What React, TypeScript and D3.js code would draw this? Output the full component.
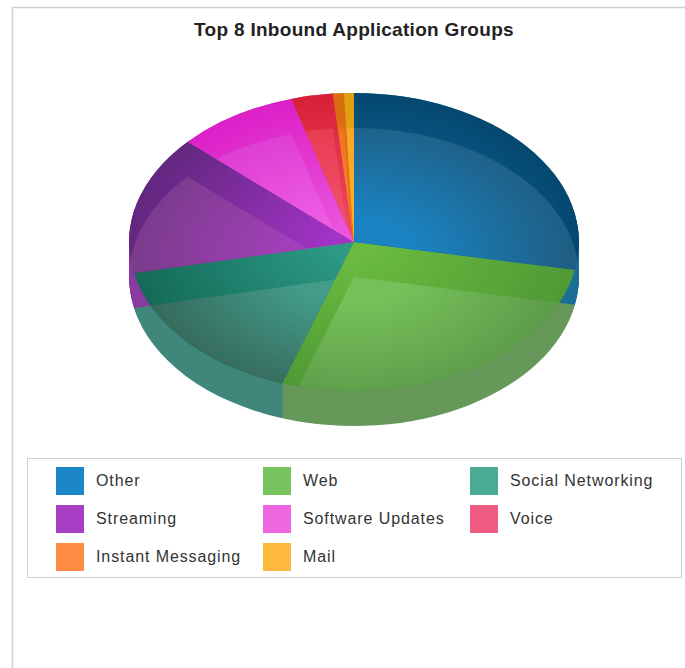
import React from 'react';
import * as d3 from 'd3';

// Traffic share per application group, in percent.
const groupNames = ['Other', 'Web', 'Social Networking', 'Streaming', 'Software Updates', 'Voice', 'Instant Messaging', 'Mail'];
const groupShares = [28, 27.2, 16.5, 15.1, 8.75, 3.0, 0.8, 0.7];

// Legend swatch colour of each group.
const legendColors = ['#1b87c9', '#77c35e', '#4aab95', '#a63fc4', '#ee66e0', '#ee5c82', '#ff8c42', '#fcb93e'];
// Lit face colours, near the centre and towards the outer edge.
const faceNear = ['#1a82c0', '#76c05a', '#439c8a', '#a240ba', '#ee5ce2', '#f0506a', '#ff8230', '#fcb02e'];
const faceFar = ['#1f5f85', '#5d9c4a', '#366a5c', '#7c3c8e', '#dc3cd2', '#e83a50', '#f07020', '#f5a520'];
// Upper rim colours, near the centre and at the outer edge.
const rimNear = ['#0f6ea8', '#6abb3f', '#2c9a85', '#a233c6', '#ea55dc', '#ee4a60', '#f07a10', '#f0a818'];
const rimFar = ['#05486f', '#4f9a35', '#146a58', '#62277f', '#dc20c8', '#d82038', '#d86a10', '#dca010'];
// Lower wall colours.
const wallColors = ['#1a6f97', '#66985a', '#3f877a', '#8a3aa0', '#c050b8', '#c04a68', '#c87038', '#c89a38'];

const titleText = 'Top 8 Inbound Application Groups';

const WIDTH = 685;
const HEIGHT = 668;
const CX = 354;
const CY = 242;
const RX = 225;
const RY = 149;
const DEPTH = 35;

const legendColX = [56, 263, 470];
const legendRowY = [467, 505, 543];

// Wall paint order: front slices first, so the side slivers of the back slices stay visible.
const wallOrder = [2, 1, 3, 4, 5, 6, 7, 0];
const sweepOffsets = d3.range(0, DEPTH + 1);

const slices = d3.pie<number>().sort(null).value((d) => d)(groupShares);
const unitArc = d3.arc<d3.PieArcDatum<number>>().innerRadius(0).outerRadius(1);

const placeAt = (dy: number) => `translate(${CX},${CY + dy}) scale(${RX},${RY})`;

export default function App() {
  return (
    <svg
      width={WIDTH}
      height={HEIGHT}
      viewBox={`0 0 ${WIDTH} ${HEIGHT}`}
      style={{ position: 'fixed', left: 0, top: 0, display: 'block', background: '#fff' }}
      fontFamily="'Liberation Sans', Arial, sans-serif"
    >
      <defs>
        {slices.map((s, i) => (
          <React.Fragment key={i}>
            <clipPath id={`upper-${i}`}>
              <path d={unitArc(s) ?? ''} transform={placeAt(0)} />
            </clipPath>
            <radialGradient id={`rim-${i}`} gradientUnits="userSpaceOnUse" cx={0} cy={0} r={1}>
              <stop offset="0.1" stopColor={rimNear[i]} />
              <stop offset="1" stopColor={rimFar[i]} />
            </radialGradient>
            <radialGradient id={`face-${i}`} gradientUnits="userSpaceOnUse" cx={0} cy={-DEPTH / 2 / RY} r={1}>
              <stop offset="0.3" stopColor={faceNear[i]} />
              <stop offset="0.95" stopColor={faceFar[i]} />
            </radialGradient>
          </React.Fragment>
        ))}
      </defs>

      {/* Panel edges */}
      <path d={`M12.5,${HEIGHT}V7.5H${WIDTH}`} fill="none" stroke="#cfcfcf" strokeWidth={1.5} />

      <text x={CX} y={36} textAnchor="middle" fontSize={19} letterSpacing={0.3} fontWeight="bold" fill="#222">
        {titleText}
      </text>

      {/* Lower wall, swept through the pie's depth */}
      {wallOrder.map((i) => (
        <g key={i} fill={wallColors[i]}>
          {sweepOffsets.map((dy) => (
            <path key={dy} d={unitArc(slices[i]) ?? ''} transform={placeAt(dy)} />
          ))}
        </g>
      ))}
      {/* Upper rim */}
      <g transform={placeAt(0)}>
        {slices.map((s, i) => (
          <path key={i} d={unitArc(s) ?? ''} fill={`url(#rim-${i})`} />
        ))}
      </g>
      {/* Lit face, where a slice overlaps its own lowered copy */}
      {slices.map((s, i) => (
        <g key={i} clipPath={`url(#upper-${i})`}>
          <path d={unitArc(s) ?? ''} transform={placeAt(DEPTH)} fill={`url(#face-${i})`} />
        </g>
      ))}

      {/* Legend */}
      <rect x={27.5} y={458.5} width={654} height={119} fill="#fff" stroke="#cfcfcf" />
      {groupNames.map((name, i) => {
        const x = legendColX[i % 3];
        const y = legendRowY[Math.floor(i / 3)];
        return (
          <g key={name}>
            <rect x={x} y={y} width={28} height={28} fill={legendColors[i]} />
            <text x={x + 40} y={y + 19} fontSize={16} letterSpacing={0.9} fill="#333">
              {name}
            </text>
          </g>
        );
      })}
    </svg>
  );
}
